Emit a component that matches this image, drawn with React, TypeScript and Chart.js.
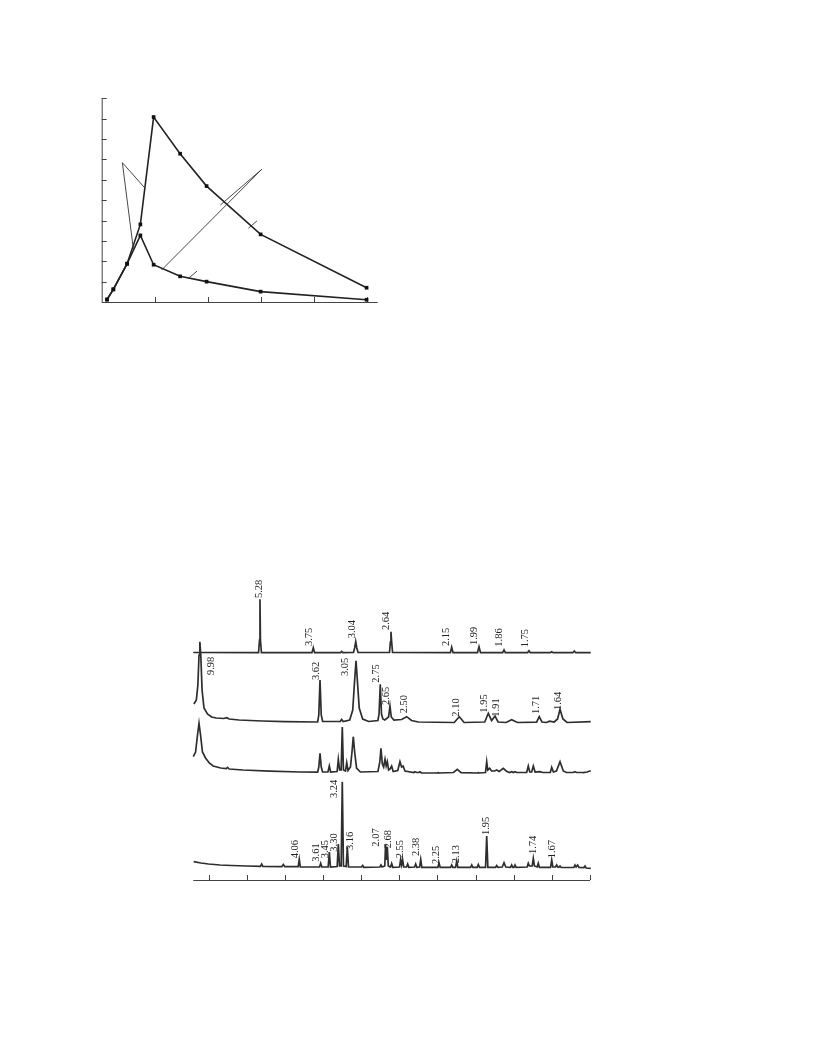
import React, { useEffect, useRef } from "react";
import { Chart, registerables } from "chart.js";

Chart.register(...registerables);

// ---------- Top chart data ----------
const topX = [0.1, 0.22, 0.48, 0.73, 0.98, 1.48, 1.98, 3, 5];
const seriesA = [0.13, 0.62, 1.88, 3.81, 9.08, 7.28, 5.69, 3.32, 0.7];
const seriesB = [0.11, 0.62, 1.88, 3.27, 1.83, 1.26, 1.0, 0.51, 0.11];
const topXTicks = [1, 2, 3, 4, 5];
const topYTicks = [1, 2, 3, 4, 5, 6, 7, 8, 9, 10];
const topXMax = 5.21;
const topYMax = 10;
// leader lines (label callouts without text)
const leader1 = [[0.82, 5.58], [0.39, 6.84], [0.6, 2.55]];
const leader2 = [[2.24, 4.76], [3.02, 6.51], [1.13, 1.57]];
const leader3 = [[2.77, 3.62], [2.93, 3.98]];
const leader4 = [[1.64, 1.16], [1.8, 1.52]];

// ---------- Bottom chart (XRD) data: [2theta, intensity] ----------
const xrdMin = 8;
const xrdMax = 60;
const xrdYMax = 300;
const xrdTicks = [10, 15, 20, 25, 30, 35, 40, 45, 50, 55, 60];

const trace1 = [
  [8.0, 227.5], [16.55, 227.3], [16.68, 240], [16.74, 280.7], [16.8, 240], [16.93, 227.3],
  [23.55, 227.3], [23.73, 232.3], [23.9, 227.3], [27.3, 227.3], [27.45, 228.5], [27.6, 227.3],
  [29.0, 227.5], [29.15, 232], [29.29, 238.3], [29.43, 232], [29.6, 227.5],
  [33.72, 227.5], [33.83, 238], [33.91, 248.3], [34.0, 238], [34.12, 227.5],
  [41.7, 227.3], [41.87, 232.7], [42.05, 227.3], [45.25, 227.3], [45.45, 233.3], [45.65, 227.3],
  [48.55, 227.3], [48.73, 230], [48.9, 227.3], [51.82, 227.3], [52.0, 229.3], [52.18, 227.3],
  [54.8, 227.3], [54.98, 228.3], [55.15, 227.3], [57.75, 227.3], [57.94, 229], [58.12, 227.3],
  [60.1, 227.3],
];

const trace2 = [
  [8.08, 176], [8.4, 180], [8.6, 195], [8.75, 225], [8.86, 238.3], [8.98, 225], [9.15, 190],
  [9.4, 172], [9.85, 166], [10.4, 163], [11.0, 162], [12.0, 161.5], [12.4, 162.3], [12.7, 161],
  [14.0, 160], [17, 159], [20, 158.3], [24.3, 158], [24.45, 165], [24.61, 200], [24.77, 165],
  [24.95, 158.5], [27.25, 158.5], [27.45, 160.5], [27.65, 158.5], [28.5, 160], [28.9, 170],
  [29.15, 200], [29.33, 219.3], [29.5, 200], [29.75, 172], [30.2, 161], [31, 158.5],
  [32.2, 159.5], [32.35, 166], [32.51, 195.7], [32.67, 166], [32.85, 161], [33.1, 160],
  [33.6, 163], [33.78, 174], [33.95, 163], [34.3, 160], [35.3, 160.5], [35.97, 163.3],
  [36.6, 159.5], [37.5, 158], [42.2, 157.5], [42.87, 163.3], [43.5, 157.5], [46.2, 158],
  [46.67, 166.7], [47.1, 159.5], [47.55, 164], [47.95, 158], [49.0, 157.5], [49.73, 160.3],
  [50.5, 157.5], [53.0, 157.8], [53.35, 163.3], [53.7, 158], [54.3, 157.5], [54.7, 158.8],
  [55.3, 158], [55.75, 161], [56.07, 170.7], [56.45, 161], [57.0, 157.5], [60.1, 158.3],
];

const trace3 = [
  [8.0, 123.3], [8.3, 128], [8.55, 145], [8.75, 156.7], [8.95, 145], [9.2, 128], [9.6, 122],
  [10.1, 117], [10.6, 114], [11.6, 112], [12.3, 111.3], [12.5, 112.5], [12.7, 111], [14.5, 110],
  [18, 108.8], [22, 108], [24.3, 107.8], [24.45, 113], [24.61, 126.7], [24.77, 113], [24.95, 108],
  [25.65, 108], [25.83, 114], [26.0, 108], [26.85, 108.5], [27.01, 120.7], [27.18, 110],
  [27.38, 110], [27.53, 153], [27.68, 110], [27.95, 109], [28.11, 117.3], [28.28, 109.5],
  [28.6, 113], [28.8, 128], [28.97, 143.3], [29.15, 128], [29.4, 112], [29.9, 108],
  [32.2, 108.5], [32.45, 118], [32.6, 131.7], [32.78, 116], [32.95, 113], [33.13, 120.7],
  [33.28, 114], [33.43, 118.3], [33.6, 110], [33.8, 111], [34.0, 114], [34.2, 108.5],
  [34.8, 109.5], [35.09, 118.3], [35.3, 113], [35.5, 114], [35.75, 109], [36.9, 107.5],
  [37.05, 108.3], [37.3, 107.5], [37.55, 107.5], [37.7, 108.3], [37.9, 107.2], [39.95, 107],
  [40.1, 107.3], [40.3, 107], [42.1, 107.5], [42.6, 110.7], [43.1, 107.3], [45.2, 107],
  [45.36, 107.3], [45.5, 107], [46.3, 107.5], [46.46, 118.3], [46.6, 110], [46.85, 111.7],
  [47.1, 109], [47.5, 109], [47.77, 110], [48.1, 108.5], [48.63, 111.7], [49.1, 108.5],
  [49.5, 107.5], [49.73, 108.3], [49.95, 107.5], [50.17, 108.3], [50.4, 107.5], [51.7, 107.5],
  [51.91, 114], [52.1, 108], [52.35, 108], [52.57, 114], [52.8, 108], [53.44, 108.3],
  [53.8, 107.5], [54.8, 107.5], [54.98, 112.7], [55.2, 108], [55.6, 109], [56.07, 118.3],
  [56.5, 109], [56.9, 107.5], [57.8, 107.5], [58.03, 108.3], [58.25, 107.5], [59.0, 107.5],
  [59.12, 107.3], [59.6, 108], [60.1, 109.3],
];

const trace4 = [
  [8.05, 18.3], [9, 17], [10, 16], [11.5, 15], [13, 14.5], [15, 14], [16.8, 13.7], [16.96, 16],
  [17.12, 13.7], [19.6, 13.3], [19.8, 15.5], [20.0, 13.3], [21.75, 13.3], [21.89, 20.7],
  [22.03, 13], [24.55, 13], [24.7, 16.7], [24.85, 13], [25.68, 13], [25.83, 28], [25.98, 13],
  [26.86, 13.5], [27.01, 36], [27.16, 14], [27.38, 14], [27.53, 98.3], [27.68, 14],
  [28.04, 13.5], [28.19, 33], [28.34, 13], [30.05, 13], [30.2, 14.5], [30.35, 12.7],
  [32.45, 13], [32.6, 15], [32.75, 13], [33.1, 14], [33.2, 35], [33.32, 20], [33.43, 33.3],
  [33.56, 14], [33.85, 13], [34.0, 16.5], [34.15, 12.7], [35.03, 13], [35.18, 20.7],
  [35.3, 15], [35.44, 20], [35.58, 13], [35.95, 13], [36.1, 16], [36.25, 12.7], [37.0, 13],
  [37.15, 16], [37.3, 12.7], [37.66, 13], [37.81, 20.7], [37.96, 12.7], [40.06, 12.7],
  [40.21, 17], [40.36, 12.7], [41.72, 12.7], [41.87, 15], [42.02, 12.7], [42.38, 12.7],
  [42.53, 19], [42.68, 12.7], [44.35, 12.7], [44.5, 15], [44.65, 12.7], [45.21, 12.7],
  [45.36, 15.5], [45.51, 12.7], [46.31, 12.7], [46.46, 44], [46.61, 12.7], [47.62, 12.7],
  [47.77, 14.5], [47.92, 12.7], [48.5, 13], [48.73, 17.3], [48.96, 13], [49.58, 12.7],
  [49.73, 15], [49.88, 12.7], [50.02, 12.7], [50.17, 15], [50.32, 12.7], [51.76, 13],
  [51.91, 16.7], [52.06, 14], [52.42, 14], [52.57, 21.7], [52.72, 14], [53.07, 13],
  [53.22, 16.7], [53.37, 12.7], [54.83, 12.7], [54.98, 20], [55.13, 13], [55.48, 13],
  [55.63, 15], [55.78, 13], [55.92, 12.7], [56.07, 14], [56.22, 12.5], [57.88, 12.5],
  [58.03, 15], [58.18, 13], [58.38, 15], [58.55, 12.5], [59.19, 12.3], [59.34, 14],
  [59.49, 12], [60.1, 11.7],
];

// d-spacing labels: [text, 2theta (centre), intensity at text bottom]
const labels1 = [
  ["5.28", 16.65, 282], ["3.75", 23.2, 234], ["3.04", 28.84, 241.7], ["2.64", 33.35, 250],
  ["2.15", 41.22, 234], ["1.99", 44.88, 235], ["1.86", 48.11, 233.3], ["1.75", 51.48, 232.7],
];
const labels2 = [
  ["9.98", 10.41, 205], ["3.62", 24.08, 200], ["3.05", 27.88, 204], ["2.75", 32.04, 197.3],
  ["2.65", 33.35, 175], ["2.50", 35.62, 166.7], ["2.10", 42.43, 163.3], ["1.95", 46.1, 167.3],
  ["1.91", 47.68, 163.3], ["1.71", 53.0, 166], ["1.64", 55.84, 170],
];
const labels4 = [
  ["4.06", 21.33, 21.7], ["3.61", 24.17, 18.3], ["3.45", 25.35, 21.7], ["3.30", 26.48, 28.3],
  ["3.24", 26.44, 82], ["3.16", 28.54, 30], ["2.07", 32.04, 33.3], ["2.68", 33.61, 31.7],
  ["2.55", 35.09, 21.7], ["2.38", 37.28, 24], ["2.25", 39.9, 16], ["2.13", 42.43, 16.7],
  ["1.95", 46.46, 45], ["1.74", 52.57, 26], ["1.67", 55.11, 21.7],
];

const toXY = (arr: number[][]) => arr.map(([x, y]) => ({ x, y }));

const axesPlugin = (xTicks: number[], yTicks: number[] | null, color: string) => ({
  id: "customAxes",
  beforeDatasetsDraw(chart: any) {
    const { ctx, chartArea, scales } = chart;
    const xs = scales.x;
    const ys = scales.y;
    ctx.save();
    ctx.strokeStyle = color;
    ctx.lineWidth = 1;
    ctx.beginPath();
    ctx.moveTo(chartArea.left, chartArea.bottom + 0.5);
    ctx.lineTo(chartArea.right, chartArea.bottom + 0.5);
    xTicks.forEach((t) => {
      const px = Math.round(xs.getPixelForValue(t)) + 0.5;
      ctx.moveTo(px, chartArea.bottom);
      ctx.lineTo(px, chartArea.bottom - 5);
    });
    if (yTicks) {
      ctx.moveTo(chartArea.left + 0.5, chartArea.bottom);
      ctx.lineTo(chartArea.left + 0.5, chartArea.top);
      yTicks.forEach((t) => {
        const py = Math.round(ys.getPixelForValue(t)) + 0.5;
        ctx.moveTo(chartArea.left, py);
        ctx.lineTo(chartArea.left + 5, py);
      });
    }
    ctx.stroke();
    ctx.restore();
  },
});

const labelPlugin = (groups: any[][]) => ({
  id: "peakLabels",
  afterDatasetsDraw(chart: any) {
    const { ctx, scales } = chart;
    ctx.save();
    ctx.fillStyle = "#222";
    ctx.font = '10.5px "Liberation Serif", "Times New Roman", serif';
    ctx.textAlign = "left";
    ctx.textBaseline = "middle";
    groups.forEach((g) =>
      g.forEach(([text, x, y]) => {
        const px = scales.x.getPixelForValue(x);
        const py = scales.y.getPixelForValue(y);
        ctx.save();
        ctx.translate(px, py);
        ctx.rotate(-Math.PI / 2);
        ctx.fillText(text, 0, 0);
        ctx.restore();
      })
    );
    ctx.restore();
  },
});

function TopChart() {
  const ref = useRef<HTMLCanvasElement>(null);
  useEffect(() => {
    if (!ref.current) return;
    const thin = (pts: number[][]) => ({
      data: toXY(pts),
      borderColor: "#333",
      borderWidth: 0.9,
      pointRadius: 0,
      tension: 0,
      clip: false as any,
    });
    const main = (vals: number[]) => ({
      data: topX.map((x, i) => ({ x, y: vals[i] })),
      borderColor: "#222",
      borderWidth: 1.6,
      pointStyle: "rect",
      pointRadius: 2.6,
      pointBackgroundColor: "#111",
      pointBorderColor: "#111",
      pointBorderWidth: 0,
      tension: 0,
      clip: false as any,
    });
    const chart = new Chart(ref.current, {
      type: "line",
      data: {
        datasets: [
          thin(leader1),
          thin(leader2),
          thin(leader3),
          thin(leader4),
          main(seriesA),
          main(seriesB),
        ] as any,
      },
      options: {
        animation: false,
        responsive: false,
        devicePixelRatio: 1,
        layout: { padding: { left: 11.7, right: 12.3, top: 10.3, bottom: 10 } },
        plugins: { legend: { display: false }, tooltip: { enabled: false } },
        scales: {
          x: { type: "linear", min: 0, max: topXMax, display: false },
          y: { type: "linear", min: 0, max: topYMax, display: false },
        },
      },
      plugins: [axesPlugin(topXTicks, topYTicks, "#444")],
    });
    return () => chart.destroy();
  }, []);
  return (
    <canvas
      ref={ref}
      width={300}
      height={224}
      style={{ position: "absolute", left: 90, top: 88, width: 300, height: 224 }}
    />
  );
}

function XrdChart() {
  const ref = useRef<HTMLCanvasElement>(null);
  useEffect(() => {
    if (!ref.current) return;
    const tr = (pts: number[][]) => ({
      data: toXY(pts),
      borderColor: "#2e2e2e",
      borderWidth: 1.7,
      pointRadius: 0,
      tension: 0,
      clip: false as any,
    });
    const chart = new Chart(ref.current, {
      type: "line",
      data: { datasets: [tr(trace1), tr(trace2), tr(trace3), tr(trace4)] as any },
      options: {
        animation: false,
        responsive: false,
        devicePixelRatio: 1,
        layout: { padding: { left: 13.3, right: 20, top: 10, bottom: 10 } },
        plugins: { legend: { display: false }, tooltip: { enabled: false } },
        scales: {
          x: { type: "linear", min: xrdMin, max: xrdMax, display: false },
          y: { type: "linear", min: 0, max: xrdYMax, display: false },
        },
      },
      plugins: [axesPlugin(xrdTicks, null, "#444"), labelPlugin([labels1, labels2, labels4])],
    });
    return () => chart.destroy();
  }, []);
  return (
    <canvas
      ref={ref}
      width={430}
      height={320}
      style={{ position: "absolute", left: 180, top: 570, width: 430, height: 320 }}
    />
  );
}

export default function App() {
  return (
    <div style={{ position: "absolute", left: 0, top: 0, width: 816, height: 1056, background: "#fff" }}>
      <TopChart />
      <XrdChart />
    </div>
  );
}
